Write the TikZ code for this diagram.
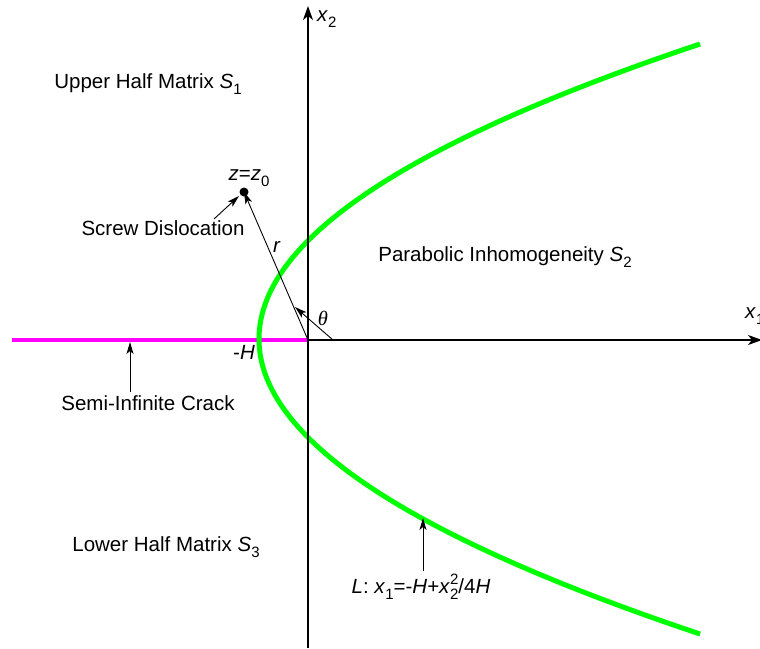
\documentclass[tikz,border=0pt]{standalone}
\usepackage{fontspec}
\setmainfont{Liberation Sans}
\newfontfamily\thetafont{Liberation Serif}
\usetikzlibrary{arrows.meta}
\newcommand{\lowsub}[1]{\raisebox{-6pt}{\fontsize{15}{15}\selectfont #1}}
\newcommand{\highsup}[1]{\raisebox{9pt}{\fontsize{15}{15}\selectfont #1}}
\begin{document}
\begin{tikzpicture}[x=1pt,y=-1pt,
  lbl/.style={inner sep=0pt,font=\fontsize{20.5}{24}\selectfont},
  axis/.style={line width=1.4pt,-{Stealth[length=14pt,width=10pt,inset=4pt]}},
  pointer/.style={line width=0.9pt,-{Stealth[length=12pt,width=7pt,inset=3pt]}},
  crack/.style={line width=4.5pt,draw={rgb,255:red,255;green,0;blue,255}},
  inhom/.style={line width=5pt,draw={rgb,255:red,0;green,255;blue,0}}]
\useasboundingbox (0,0) rectangle (760,648);
\coordinate (O) at (308,340);
\coordinate (crackend) at (12,340);
\coordinate (ytop) at (308,6);
\coordinate (ybot) at (308,648);
\coordinate (xend) at (762,340);
\coordinate (z0) at (244,192);
\coordinate (thst) at (333,340);
\coordinate (thend) at (295,307);
% crack
\draw[crack] (crackend) -- (O);
% parabola
\draw[inhom] plot[domain=-295:295,samples=120,smooth] ({259+\x/197.3*\x},{339-\x});
% axes
\draw[axis] (ybot) -- (ytop);
\draw[axis] (O) -- (xend);
% dislocation
\fill (z0) circle (4.5pt);
\draw[pointer] (O) -- (z0);
\draw[pointer] (thst) -- (thend);
% labels
\node[lbl,anchor=west] (x2lab) at (317,19) {\textit{x}\lowsub{2}};
\node[lbl,anchor=west] (x1lab) at (745,316) {\textit{x}\lowsub{1}};
\node[lbl] (S1) at (148,84) {Upper Half Matrix \textit{S}\lowsub{1}};
\node[lbl] (S2) at (505,257) {Parabolic Inhomogeneity \textit{S}\lowsub{2}};
\node[lbl] (S3) at (166,547) {Lower Half Matrix \textit{S}\lowsub{3}};
\node[lbl] (zlab) at (249,178) {\textit{z}=\textit{z}\lowsub{0}};
\node[lbl] (screw) at (163,228) {Screw Dislocation};
\node[lbl] (rlab) at (277,247) {\textit{r}};
\node[lbl] (thlab) at (323,318) {\thetafont\itshape θ};
\node[lbl] (Hlab) at (244,352) {-\textit{H}};
\node[lbl] (crk) at (148,403) {Semi-Infinite Crack};
\node[lbl] (Llab) at (421,587) {\textit{L}: \textit{x}\lowsub{1}=-\textit{H}+\textit{x}\rlap{\highsup{2}}\lowsub{2}/4\textit{H}};
\coordinate (crkpt) at (130,342);
\coordinate (Lpt) at (423,518);
\coordinate (zpt) at (239,196);
\draw[pointer] (crk.north -| crkpt) ++(0,-3) -- (crkpt);
\draw[pointer] (Llab.north -| Lpt) ++(0,-3) -- (Lpt);
\draw[pointer] (214,219) -- (zpt);
\end{tikzpicture}
\end{document}
